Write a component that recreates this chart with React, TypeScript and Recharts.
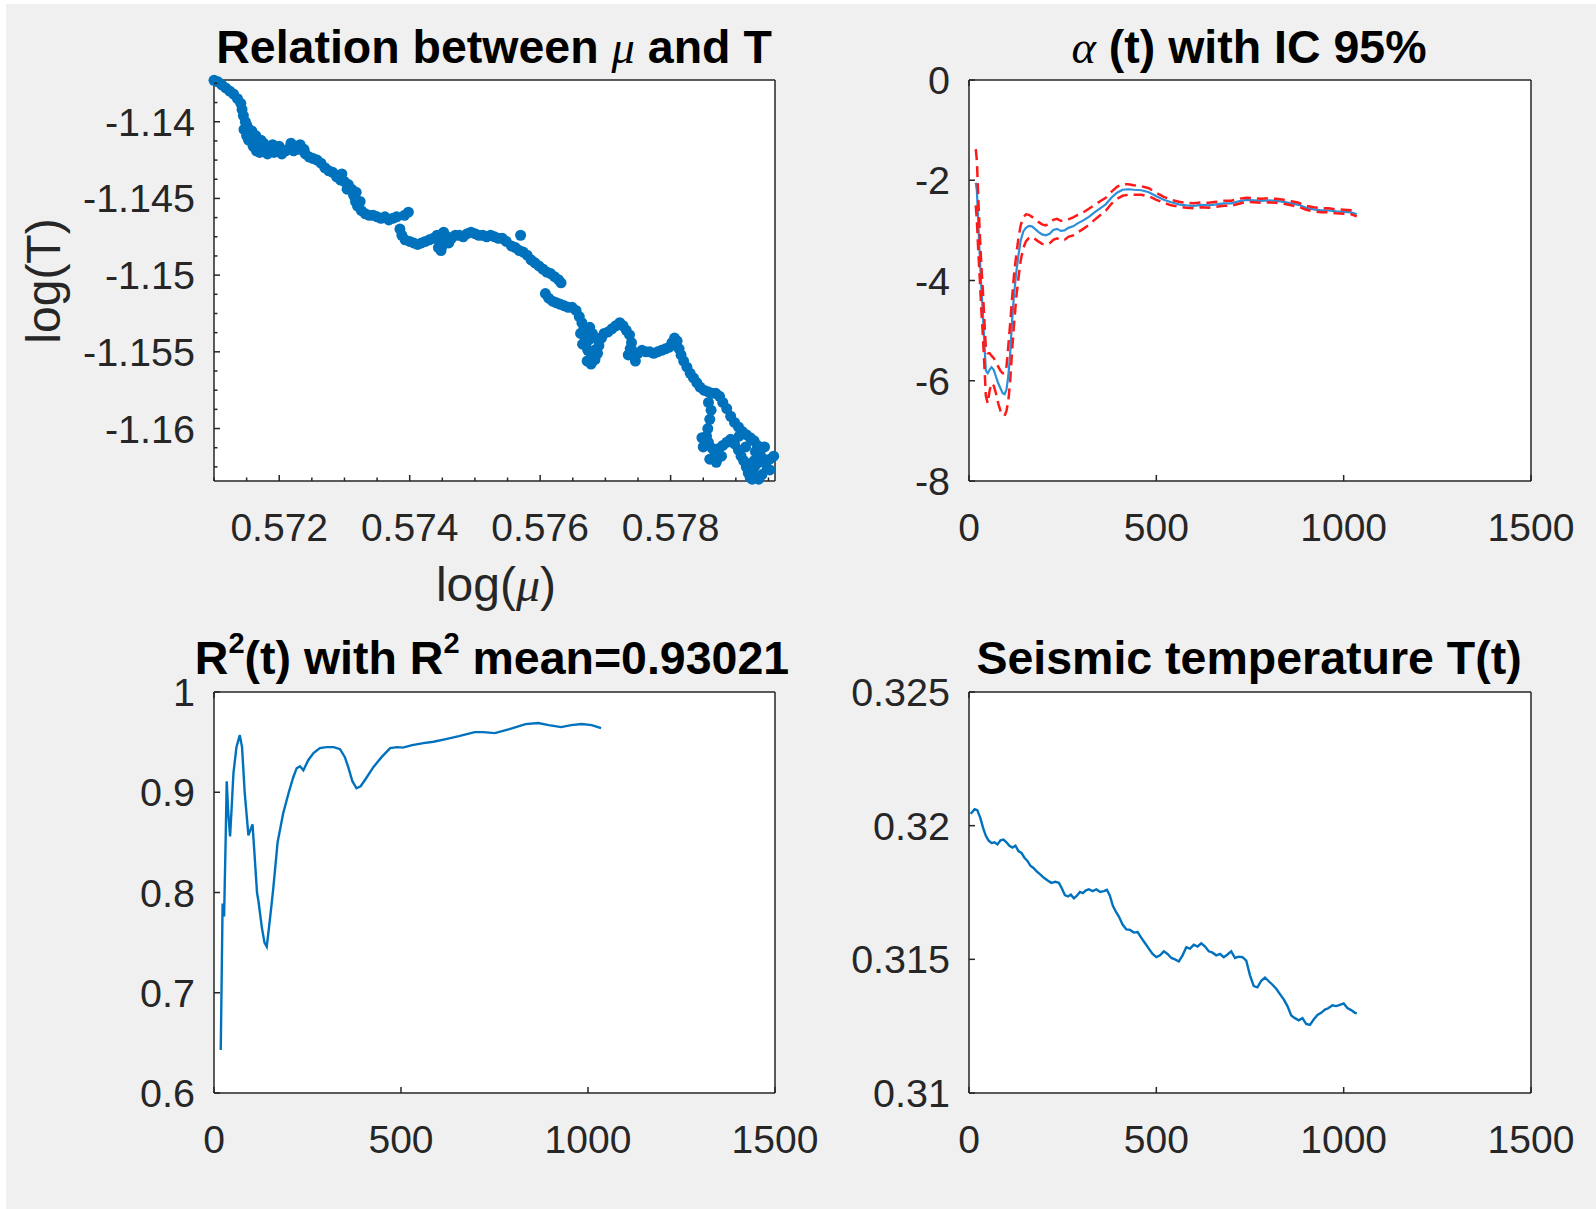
import { LineChart, Line, ScatterChart, Scatter, XAxis, YAxis } from 'recharts'

const FONT = '"Liberation Sans", Arial, Helvetica, sans-serif'
const SERIF = '"Liberation Serif", "Times New Roman", serif'
const AX = '#262626'
const BLUE = '#0072BD'
const RED = '#ff1a1a'

// ---- panel 1: log(T) vs log(mu) scatter
const logMu = [
  0.571, 0.57106, 0.57112, 0.57118, 0.57124, 0.5713, 0.57136, 0.57141, 0.57143, 0.57145,
  0.57148, 0.57146, 0.57152, 0.57155, 0.5715, 0.57153, 0.57158, 0.57162, 0.5716, 0.57165,
  0.57168, 0.57172, 0.57174, 0.5718, 0.57186, 0.57192, 0.57198, 0.57204, 0.5721, 0.57216,
  0.57222, 0.57228, 0.57234, 0.5724, 0.57246, 0.57252, 0.57258, 0.57264, 0.5727, 0.57276,
  0.57282, 0.57288, 0.57294, 0.573, 0.57306, 0.57311, 0.57314, 0.57317, 0.5732, 0.57326,
  0.57332, 0.57338, 0.57344, 0.5735, 0.57356, 0.57362, 0.57368, 0.57374, 0.5738, 0.57392,
  0.57398,
  0.5715, 0.57158, 0.57164, 0.5717, 0.57176, 0.57182, 0.5719, 0.572, 0.57218, 0.57232,
  0.57238, 0.57296, 0.57304, 0.57318, 0.57324,
  0.57385, 0.57388, 0.57393, 0.574, 0.57406, 0.57412, 0.57418, 0.57424, 0.5743, 0.57436,
  0.57442, 0.57446, 0.5745, 0.57454, 0.57458, 0.57464, 0.5747, 0.57476, 0.57482, 0.57488,
  0.57494, 0.575, 0.57506, 0.57512, 0.57518, 0.57524, 0.5753, 0.57536, 0.57542, 0.57548,
  0.5757, 0.57444, 0.57452, 0.5746, 0.57448,
  0.57556, 0.57562, 0.57568, 0.57574, 0.5758, 0.57586, 0.57592, 0.57598, 0.57604, 0.5761,
  0.57616, 0.57622, 0.57628, 0.57632,
  0.57608, 0.57613, 0.57619, 0.57625, 0.57631, 0.57637, 0.57643, 0.57649, 0.57655, 0.5766,
  0.57664, 0.57667, 0.57668, 0.5767, 0.57673, 0.57678, 0.57683, 0.57675, 0.5768, 0.57686,
  0.5769, 0.57694, 0.57698, 0.57704, 0.5771, 0.57716, 0.57722, 0.57727, 0.57732, 0.57737,
  0.5774, 0.57741, 0.57744, 0.5775, 0.57756, 0.57762, 0.57768, 0.57774, 0.5778, 0.57786,
  0.57792, 0.57798, 0.57802, 0.57806, 0.5781, 0.57813, 0.57816, 0.5782, 0.57825, 0.5783,
  0.57835, 0.5784, 0.57845, 0.57851, 0.57857, 0.57863, 0.57869, 0.57875, 0.5788, 0.57886,
  0.57892, 0.57898, 0.57904, 0.5791, 0.57916, 0.57922, 0.57928, 0.57933, 0.57937, 0.5794,
  0.57946, 0.57952, 0.57958,
  0.57665, 0.57672, 0.57678, 0.57684, 0.57688, 0.57662, 0.57676, 0.57738, 0.57746, 0.57735,
  0.57858, 0.57862, 0.5786, 0.57857, 0.57855, 0.57858, 0.57864, 0.57868, 0.57874, 0.5788,
  0.57886, 0.57892, 0.57898, 0.57904, 0.57908, 0.57912, 0.57916, 0.57919, 0.57922, 0.57926,
  0.5793, 0.57935, 0.57925, 0.57918, 0.5794, 0.57948, 0.5785, 0.57848,
  0.5786, 0.5787, 0.57878, 0.57905, 0.57915, 0.5793, 0.57944, 0.57952, 0.57935, 0.57928,
]
const logT = [
  -1.1373, -1.1374, -1.1376, -1.1378, -1.138, -1.1382, -1.1385, -1.1388, -1.1392, -1.1396,
  -1.14, -1.1405, -1.1404, -1.1407, -1.1409, -1.1412, -1.1411, -1.1413, -1.1416, -1.1419,
  -1.1415, -1.1412, -1.1417, -1.1418, -1.1417, -1.142, -1.1419, -1.1421, -1.1419, -1.1417,
  -1.1419, -1.1418, -1.1418, -1.1421, -1.1423, -1.1424, -1.1425, -1.1427, -1.143, -1.1432,
  -1.1433, -1.1436, -1.1438, -1.1439, -1.1441, -1.1444, -1.1448, -1.1452, -1.1455, -1.1458,
  -1.146, -1.1461, -1.1461, -1.1462, -1.1463, -1.1462, -1.1464, -1.1463, -1.1462, -1.1461,
  -1.1459,
  -1.1402, -1.1406, -1.1409, -1.142, -1.1414, -1.1421, -1.1415, -1.1416, -1.1414, -1.1415,
  -1.1418, -1.1434, -1.1444, -1.1446, -1.1452,
  -1.147, -1.1474, -1.1477, -1.1478, -1.1479, -1.148, -1.1479, -1.1478, -1.1477, -1.1476,
  -1.1474, -1.1478, -1.1481, -1.1476, -1.1475, -1.1476, -1.1474, -1.1474, -1.1475, -1.1473,
  -1.1472, -1.1473, -1.1474, -1.1474, -1.1475, -1.1474, -1.1475, -1.1476, -1.1476, -1.1478,
  -1.1474, -1.1482, -1.1472, -1.1479, -1.1484,
  -1.1481, -1.1482, -1.1484, -1.1485, -1.1487, -1.149, -1.1492, -1.1494, -1.1496, -1.1498,
  -1.1499, -1.1501, -1.1503, -1.1505,
  -1.1512, -1.1515, -1.1517, -1.1518, -1.1519, -1.152, -1.1521, -1.1521, -1.1523, -1.1527,
  -1.1531, -1.1535, -1.154, -1.1545, -1.1549, -1.1551, -1.1549, -1.1542, -1.1538, -1.1541,
  -1.1546, -1.1541, -1.1538, -1.1537, -1.1535, -1.1533, -1.1531, -1.1533, -1.1536, -1.1539,
  -1.1544, -1.1549, -1.1553, -1.1551, -1.1549, -1.155, -1.155, -1.1551, -1.155, -1.1549,
  -1.1548, -1.1547, -1.1544, -1.1541, -1.1543, -1.1548, -1.1552, -1.1556, -1.156, -1.1564,
  -1.1567, -1.157, -1.1573, -1.1575, -1.1576, -1.1577, -1.1577, -1.1579, -1.1583, -1.1587,
  -1.1592, -1.1596, -1.1599, -1.1602, -1.1604, -1.1606, -1.1608, -1.1611, -1.1615, -1.1619,
  -1.1621, -1.162, -1.1618,
  -1.1545, -1.1556, -1.1558, -1.1555, -1.1551, -1.1538, -1.1534, -1.1548, -1.1556, -1.1552,
  -1.1583, -1.1588, -1.1594, -1.16, -1.1605, -1.1609, -1.1613, -1.1616, -1.1613, -1.1611,
  -1.1609, -1.1607, -1.161, -1.1614, -1.1618, -1.1621, -1.1625, -1.1629, -1.1632, -1.1628,
  -1.1624, -1.1622, -1.1633, -1.1626, -1.163, -1.1626, -1.1612, -1.1606,
  -1.162, -1.1622, -1.1618, -1.1605, -1.1612, -1.1615, -1.1612, -1.1627, -1.1633, -1.1621,
]
const muTicks = [0.571, 0.5715, 0.572, 0.5725, 0.573, 0.5735, 0.574, 0.5745, 0.575, 0.5755, 0.576, 0.5765, 0.577, 0.5775, 0.578, 0.5785, 0.579, 0.5795]
const muMajor = [0.572, 0.574, 0.576, 0.578]
const tTicks = [-1.1375, -1.13875, -1.14, -1.14125, -1.1425, -1.14375, -1.145, -1.14625, -1.1475, -1.14875, -1.15, -1.15125, -1.1525, -1.15375, -1.155, -1.15625, -1.1575, -1.15875, -1.16, -1.16125, -1.1625]
const tMajor = [-1.14, -1.145, -1.15, -1.155, -1.16]

// ---- panel 2: alpha(t) with 95% interval
const alphaT = [18, 21, 25, 29, 33, 37, 41, 45, 50, 55, 60, 66, 72, 78, 84, 90, 95, 100, 105, 110, 115, 120, 126, 132, 138, 145, 152, 160, 168, 176, 185, 195, 205, 215, 225, 235, 245, 255, 265, 278, 290, 305, 320, 335, 350, 365, 380, 395, 410, 425, 440, 460, 480, 500, 520, 540, 560, 580, 600, 620, 640, 660, 680, 700, 720, 740, 760, 780, 800, 820, 840, 860, 880, 900, 920, 940, 960, 980, 1000, 1020, 1035]
const alphaMean = [-2.05, -2.2, -2.9, -3.55, -4.15, -4.65, -5.25, -5.8, -5.85, -5.78, -5.73, -5.78, -5.92, -6.05, -6.15, -6.25, -6.27, -6.18, -5.9, -5.45, -4.8, -4.3, -3.85, -3.5, -3.2, -3.02, -2.95, -2.91, -2.92, -2.97, -3.03, -3.08, -3.1, -3.07, -2.99, -2.97, -3.01, -3.0, -2.95, -2.92, -2.86, -2.8, -2.73, -2.64, -2.56, -2.48, -2.35, -2.25, -2.19, -2.18, -2.19, -2.2, -2.24, -2.32, -2.39, -2.44, -2.48, -2.5, -2.51, -2.49, -2.5, -2.48, -2.46, -2.46, -2.42, -2.39, -2.4, -2.41, -2.4, -2.41, -2.43, -2.46, -2.49, -2.55, -2.58, -2.6, -2.6, -2.62, -2.63, -2.64, -2.68]
const alphaUp = [-1.38, -1.6, -2.4, -3.1, -3.7, -4.2, -4.8, -5.35, -5.45, -5.45, -5.5, -5.55, -5.62, -5.72, -5.8, -5.85, -5.85, -5.72, -5.3, -4.85, -4.35, -3.9, -3.5, -3.15, -2.9, -2.74, -2.68, -2.69, -2.73, -2.78, -2.83, -2.88, -2.9, -2.86, -2.79, -2.77, -2.81, -2.81, -2.78, -2.74, -2.69, -2.64, -2.57, -2.49, -2.42, -2.35, -2.23, -2.13, -2.08, -2.08, -2.1, -2.12, -2.16, -2.25, -2.33, -2.39, -2.43, -2.45, -2.46, -2.44, -2.45, -2.43, -2.41, -2.41, -2.37, -2.35, -2.36, -2.37, -2.36, -2.37, -2.39, -2.42, -2.45, -2.51, -2.54, -2.56, -2.56, -2.58, -2.59, -2.6, -2.64]
const alphaLo = [-2.5, -2.8, -3.45, -4.0, -4.6, -5.1, -5.7, -6.3, -6.45, -6.2, -6.05, -6.1, -6.25, -6.45, -6.6, -6.68, -6.7, -6.6, -6.4, -6.0, -5.4, -4.9, -4.35, -3.95, -3.6, -3.35, -3.22, -3.15, -3.13, -3.17, -3.22, -3.27, -3.28, -3.26, -3.19, -3.16, -3.2, -3.19, -3.13, -3.1, -3.04, -2.97, -2.89, -2.79, -2.7, -2.61, -2.47, -2.37, -2.31, -2.29, -2.29, -2.29, -2.32, -2.39, -2.45, -2.5, -2.53, -2.55, -2.56, -2.54, -2.55, -2.53, -2.51, -2.51, -2.47, -2.43, -2.44, -2.45, -2.44, -2.45, -2.47, -2.5, -2.53, -2.59, -2.62, -2.64, -2.64, -2.66, -2.67, -2.68, -2.72]

// ---- panel 3: R^2(t)
const r2T = [18, 20, 23, 27, 31, 34, 38, 43, 48, 52, 60, 69, 75, 82, 92, 97, 103, 108, 115, 119, 128, 135, 141, 147, 153, 159, 170, 185, 200, 212, 221, 230, 239, 252, 266, 283, 301, 320, 337, 350, 359, 370, 381, 392, 405, 426, 448, 471, 490, 505, 530, 560, 587, 620, 655, 697, 720, 751, 790, 833, 867, 895, 928, 955, 983, 1010, 1035]
const r2Val = [0.643, 0.7, 0.789, 0.776, 0.85, 0.911, 0.88, 0.856, 0.89, 0.919, 0.945, 0.957, 0.945, 0.9, 0.857, 0.862, 0.868, 0.84, 0.8, 0.791, 0.765, 0.75, 0.746, 0.765, 0.785, 0.806, 0.85, 0.879, 0.9, 0.915, 0.924, 0.926, 0.922, 0.932, 0.939, 0.944, 0.945, 0.945, 0.943, 0.935, 0.925, 0.911, 0.904, 0.906, 0.913, 0.925, 0.935, 0.944, 0.945, 0.9445, 0.947, 0.949, 0.9504, 0.953, 0.956, 0.96, 0.96, 0.959, 0.963, 0.968, 0.969, 0.967, 0.965, 0.967, 0.968, 0.967, 0.964]

// ---- panel 4: seismic temperature T(t)
const tempT = [4, 8, 15, 22, 30, 38, 45, 52, 60, 68, 76, 84, 92, 100, 108, 116, 124, 132, 140, 148, 156, 164, 172, 180, 190, 200, 210, 220, 230, 240, 248, 256, 264, 272, 280, 288, 296, 304, 312, 320, 330, 340, 350, 360, 368, 376, 384, 392, 400, 410, 420, 430, 440, 450, 460, 470, 480, 490, 500, 510, 520, 530, 540, 550, 560, 570, 580, 590, 600, 610, 620, 630, 640, 650, 660, 670, 680, 690, 700, 710, 720, 730, 740, 750, 760, 770, 780, 790, 800, 810, 820, 830, 840, 850, 860, 870, 880, 890, 900, 910, 920, 930, 940, 950, 960, 970, 980, 990, 1000, 1010, 1020, 1030, 1035]
const tempVal = [0.32045, 0.3205, 0.32062, 0.32058, 0.3203, 0.3199, 0.31962, 0.31945, 0.31935, 0.31938, 0.3193, 0.31945, 0.31948, 0.31938, 0.31925, 0.31918, 0.31925, 0.31905, 0.31898, 0.3188, 0.31868, 0.3185, 0.31842, 0.3183, 0.31818, 0.31805, 0.31795, 0.31786, 0.3179, 0.31786, 0.31765, 0.3174, 0.31735, 0.31742, 0.31728, 0.31738, 0.31752, 0.31748, 0.31758, 0.31762, 0.31755, 0.31762, 0.31752, 0.31755, 0.3176, 0.31738, 0.317, 0.31678, 0.3166, 0.3163, 0.31612, 0.3161, 0.316, 0.31602, 0.3158, 0.3156, 0.3154, 0.3152, 0.31508, 0.31515, 0.3153, 0.3152, 0.31505, 0.315, 0.31492, 0.31515, 0.31545, 0.3154, 0.31555, 0.31548, 0.3156, 0.31548, 0.3153, 0.31525, 0.31515, 0.3152, 0.31508, 0.31518, 0.3153, 0.31505, 0.3151, 0.31508, 0.31495, 0.3144, 0.314, 0.31395, 0.3142, 0.31432, 0.31418, 0.31405, 0.3139, 0.3137, 0.3135, 0.31325, 0.3129, 0.3128, 0.31272, 0.3128, 0.31258, 0.31255, 0.31275, 0.31292, 0.313, 0.31312, 0.31318, 0.31328, 0.31325, 0.3133, 0.31335, 0.31318, 0.3131, 0.313, 0.31298]

const timeTicks = [0, 500, 1000, 1500]
const alphaTicks = [0, -2, -4, -6, -8]
const r2Ticks = [0.6, 0.7, 0.8, 0.9, 1]
const tempTicks = [0.31, 0.315, 0.32, 0.325]

const scatterData = logMu.map((x, i) => ({ x, y: logT[i] }))
const alphaData = alphaT.map((t, i) => ({ t, a: alphaMean[i], lo: alphaLo[i], hi: alphaUp[i] }))
const r2Data = r2T.map((t, i) => ({ t, r: r2Val[i] }))
const tempData = tempT.map((t, i) => ({ t, v: tempVal[i] }))

const near = (v: number, list: number[]) => list.some((m) => Math.abs(m - v) < 1e-9)

// ticks point inwards like matlab; labels only on bottom/left
function xTick(major: number[], labels: boolean, dir: number) {
  return (p: any) => {
    const v = p.payload.value
    const isM = near(v, major)
    const len = isM ? 6 : 3.5
    return (
      <g>
        <line x1={p.x} x2={p.x} y1={p.y} y2={p.y - dir * len} stroke={AX} strokeWidth={1.5} />
        {labels && isM ? (
          <text x={p.x} y={p.y + 60} textAnchor="middle" fontSize={39} fill={AX} fontFamily={FONT}>
            {String(v)}
          </text>
        ) : null}
      </g>
    )
  }
}

function yTick(major: number[], labels: boolean, dir: number) {
  return (p: any) => {
    const v = p.payload.value
    const isM = near(v, major)
    const len = isM ? 6 : 3.5
    return (
      <g>
        <line x1={p.x} x2={p.x + dir * len} y1={p.y} y2={p.y} stroke={AX} strokeWidth={1.5} />
        {labels && isM ? (
          <text x={p.x - 19} y={p.y + 14} textAnchor="end" fontSize={39.5} fill={AX} fontFamily={FONT}>
            {String(v)}
          </text>
        ) : null}
      </g>
    )
  }
}

// four axes make the matlab box: the axes need a non-zero size to be drawn
function boxAxes(xd: number[], xt: number[], xm: number[], yd: number[], yt: number[], ym: number[], xKey: string, yKey?: string) {
  const common = { tickLine: false, tickSize: 0, tickMargin: 0, interval: 0 as const, axisLine: { stroke: AX, strokeWidth: 1.5 } }
  return [
    <XAxis key="xb" xAxisId="b" orientation="bottom" type="number" dataKey={xKey} domain={xd} ticks={xt} height={1} tick={xTick(xm, true, 1)} {...common} />,
    <XAxis key="xt" xAxisId="t" orientation="top" type="number" domain={xd} ticks={xt} height={1} tick={xTick(xm, false, -1)} {...common} />,
    <YAxis key="yl" yAxisId="l" orientation="left" type="number" dataKey={yKey} domain={yd} ticks={yt} width={1} tick={yTick(ym, true, 1)} {...common} />,
    <YAxis key="yr" yAxisId="r" orientation="right" type="number" domain={yd} ticks={yt} width={1} tick={yTick(ym, false, -1)} {...common} />,
  ]
}

const Dot = (p: any) => <circle cx={p.cx} cy={p.cy} r={5.5} fill={BLUE} />

const plotBg = { position: 'absolute' as const, background: '#fff' }

export default function App() {
  return (
    <div style={{ position: 'absolute', left: 0, top: 0, width: 1596, height: 1209, background: '#fff', fontFamily: FONT, overflow: 'hidden' }}>
      <div style={{ position: 'absolute', left: 6, top: 4, right: 0, bottom: 0, background: '#f0f0f0' }} />
      <div style={{ ...plotBg, left: 214, top: 80, width: 561, height: 401 }} />
      <div style={{ ...plotBg, left: 969, top: 80, width: 562, height: 401 }} />
      <div style={{ ...plotBg, left: 214, top: 692, width: 561, height: 401 }} />
      <div style={{ ...plotBg, left: 969, top: 692, width: 562, height: 401 }} />

      <div style={{ position: 'absolute', left: 0, top: 0 }}>
        <ScatterChart width={830} height={604} margin={{ top: 79, left: 213, right: 54, bottom: 122 }}>
          {boxAxes([0.571, 0.5796], muTicks, muMajor, [-1.16342, -1.13728], tTicks, tMajor, 'x', 'y')}
          <Scatter data={scatterData} xAxisId="b" yAxisId="l" fill={BLUE} shape={Dot} isAnimationActive={false} />
        </ScatterChart>
      </div>

      <div style={{ position: 'absolute', left: 798, top: 0 }}>
        <LineChart width={798} height={604} data={alphaData} margin={{ top: 79, left: 170, right: 64, bottom: 122 }}>
          {boxAxes([0, 1500], timeTicks, timeTicks, [-8, 0], alphaTicks, alphaTicks, 't')}
          <Line xAxisId="b" yAxisId="l" dataKey="a" stroke="#2b90d9" strokeWidth={2.2} dot={false} type="linear" isAnimationActive={false} />
          <Line xAxisId="b" yAxisId="l" dataKey="hi" stroke={RED} strokeWidth={2.5} strokeDasharray="11 6" dot={false} type="linear" isAnimationActive={false} />
          <Line xAxisId="b" yAxisId="l" dataKey="lo" stroke={RED} strokeWidth={2.5} strokeDasharray="11 6" dot={false} type="linear" isAnimationActive={false} />
        </LineChart>
      </div>

      <div style={{ position: 'absolute', left: 0, top: 604 }}>
        <LineChart width={830} height={605} data={r2Data} margin={{ top: 87, left: 213, right: 54, bottom: 115 }}>
          {boxAxes([0, 1500], timeTicks, timeTicks, [0.6, 1], r2Ticks, r2Ticks, 't')}
          <Line xAxisId="b" yAxisId="l" dataKey="r" stroke={BLUE} strokeWidth={2.4} dot={false} type="linear" isAnimationActive={false} />
        </LineChart>
      </div>

      <div style={{ position: 'absolute', left: 798, top: 604 }}>
        <LineChart width={798} height={605} data={tempData} margin={{ top: 87, left: 170, right: 64, bottom: 115 }}>
          {boxAxes([0, 1500], timeTicks, timeTicks, [0.31, 0.325], tempTicks, tempTicks, 't')}
          <Line xAxisId="b" yAxisId="l" dataKey="v" stroke={BLUE} strokeWidth={2.4} dot={false} type="linear" isAnimationActive={false} />
        </LineChart>
      </div>

      <svg width={1596} height={1209} style={{ position: 'absolute', left: 0, top: 0, pointerEvents: 'none' }}>
        <g fontFamily={FONT} fontWeight="bold" fontSize={46.5} fill="#000" textAnchor="middle">
          <text x={494} y={63}>
            Relation between <tspan fontFamily={SERIF} fontStyle="italic" fontWeight="normal">μ</tspan> and T
          </text>
          <text x={1249} y={63}>
            <tspan fontFamily={SERIF} fontStyle="italic" fontWeight="normal">α</tspan> (t) with IC 95%
          </text>
          <text x={492} y={674}>
            R<tspan fontSize={29} dy={-21}>2</tspan>
            <tspan dy={21}>(t) with R</tspan>
            <tspan fontSize={29} dy={-21}>2</tspan>
            <tspan dy={21}> mean=0.93021</tspan>
          </text>
          <text x={1249} y={674}>Seismic temperature T(t)</text>
        </g>
        <g fontFamily={FONT} fontSize={48} fill={AX} textAnchor="middle">
          <text x={496} y={601}>
            log(<tspan fontFamily={SERIF} fontStyle="italic">μ</tspan>)
          </text>
          <text x={60} y={281} transform="rotate(-90 60 281)">log(T)</text>
        </g>
      </svg>
    </div>
  )
}
